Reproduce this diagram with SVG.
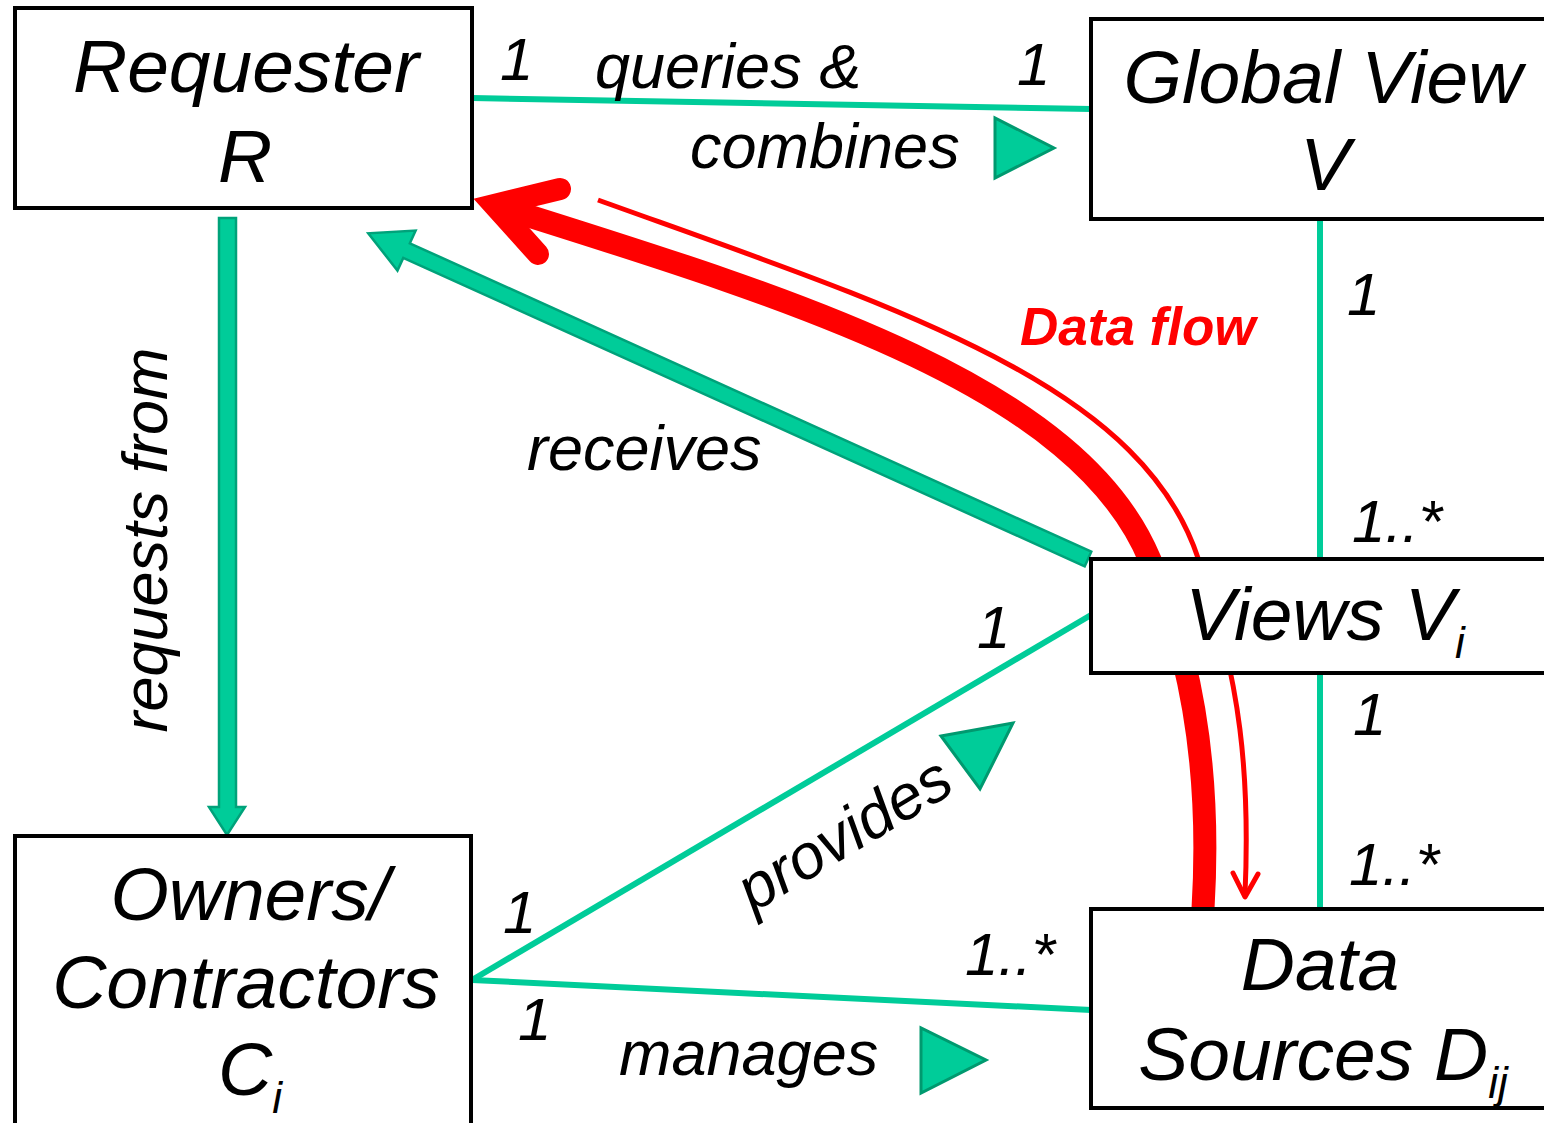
<svg xmlns="http://www.w3.org/2000/svg" width="1544" height="1123" viewBox="0 0 1544 1123">
  <style>
    .box { fill: #ffffff; stroke: #000000; stroke-width: 4; }
    .name { font-family: "Liberation Sans", Arial, sans-serif; font-style: italic; font-size: 75px; fill: #000000; text-anchor: middle; }
    .sub { font-size: 44px; }
    .lbl { font-family: "Liberation Sans", Arial, sans-serif; font-style: italic; font-size: 63px; fill: #000000; }
    .mult { font-family: "Liberation Sans", Arial, sans-serif; font-style: italic; font-size: 60px; fill: #000000; }
    .assoc { stroke: #00CC99; stroke-width: 6; fill: none; }
    .fat { fill: #00CC99; stroke: #00A27A; stroke-width: 2.5; stroke-linejoin: miter; }
    .dir { fill: #00CC99; stroke: #00996F; stroke-width: 3; stroke-linejoin: miter; }
    .flow { fill: none; stroke: #FF0000; }
  </style>

  <!-- data flow curves (drawn first so the boxes cover them) -->
  <g id="data-flow">
    <path class="flow" stroke-width="23" d="M494,205 C797,300 1078,386 1150,560 C1187,645 1212,760 1203,909"/>
    <path class="flow" stroke-width="22" stroke-linecap="round" stroke-linejoin="miter" d="M560,189 L494,205 L538,254"/>
    <path class="flow" stroke-width="5" d="M598,200 C898,308 1140,383 1198,558 C1242,680 1250,780 1245,895"/>
    <path class="flow" stroke-width="5" stroke-linecap="round" stroke-linejoin="round" d="M1233,873 L1245,897 L1258,874"/>
  </g>

  <!-- associations between the nodes -->
  <g id="connectors">
    <line class="assoc" x1="472" y1="98" x2="1091" y2="109"/>
    <line class="assoc" x1="1320" y1="219" x2="1320" y2="559"/>
    <line class="assoc" x1="1320" y1="673" x2="1320" y2="909"/>
    <line class="assoc" x1="472" y1="980" x2="1091" y2="615"/>
    <line class="assoc" x1="472" y1="980" x2="1091" y2="1010"/>
    <!-- requests from -->
    <polygon class="fat" points="219,218 236,218 236,807 245,807 227,835 209,807 219,807"/>
    <!-- receives -->
    <polygon class="fat" transform="translate(1088,559) rotate(204.35)" points="0,-8 748,-8 748,-22 790,0 748,22 748,8 0,8"/>
    <!-- reading direction markers -->
    <polygon class="dir" points="995,118 995,178 1054,148"/>
    <polygon class="dir" points="941,736 1013,723 980,789"/>
    <polygon class="dir" points="921,1028 921,1093 986,1060"/>
  </g>

  <g id="requester">
    <rect class="box" x="15" y="8" width="457" height="200"/>
    <text class="name" x="246" y="92">Requester</text>
    <text class="name" x="245" y="182">R</text>
  </g>

  <g id="global-view">
    <rect class="box" x="1091" y="19" width="470" height="200"/>
    <text class="name" x="1323" y="103">Global View</text>
    <text class="name" x="1325" y="190">V</text>
  </g>

  <g id="views">
    <rect class="box" x="1091" y="559" width="470" height="114"/>
    <text class="name" x="1325" y="640">Views V<tspan class="sub" dy="18">i</tspan></text>
  </g>

  <g id="data-sources">
    <rect class="box" x="1091" y="909" width="470" height="199"/>
    <text class="name" x="1320" y="990">Data</text>
    <text class="name" x="1323" y="1080">Sources D<tspan class="sub" dy="18">ij</tspan></text>
  </g>

  <g id="owners">
    <rect class="box" x="15" y="836" width="456" height="300"/>
    <text class="name" x="250" y="920">Owners/</text>
    <text class="name" x="246" y="1008">Contractors</text>
    <text class="name" x="250" y="1095">C<tspan class="sub" dy="18">i</tspan></text>
  </g>

  <!-- association names -->
  <g id="labels">
    <text class="lbl" x="595" y="88">queries &amp;</text>
    <text class="lbl" x="690" y="168">combines</text>
    <text class="lbl" x="527" y="470">receives</text>
    <text class="lbl" x="619" y="1075">manages</text>
    <text class="lbl" text-anchor="middle" transform="translate(167,540) rotate(-90)">requests from</text>
    <text class="lbl" text-anchor="middle" transform="translate(855,852) rotate(-31)">provides</text>
    <text x="1020" y="345" font-family="Liberation Sans, Arial, sans-serif" font-style="italic" font-weight="bold" font-size="53" fill="#FF0000">Data flow</text>
  </g>

  <!-- multiplicities -->
  <g id="multiplicities">
    <text class="mult" x="500" y="80">1</text>
    <text class="mult" x="1017" y="85">1</text>
    <text class="mult" x="1347" y="315">1</text>
    <text class="mult" x="1352" y="542">1..*</text>
    <text class="mult" x="977" y="648">1</text>
    <text class="mult" x="1353" y="735">1</text>
    <text class="mult" x="1349" y="885">1..*</text>
    <text class="mult" x="503" y="933">1</text>
    <text class="mult" x="965" y="975">1..*</text>
    <text class="mult" x="518" y="1040">1</text>
  </g>
</svg>
